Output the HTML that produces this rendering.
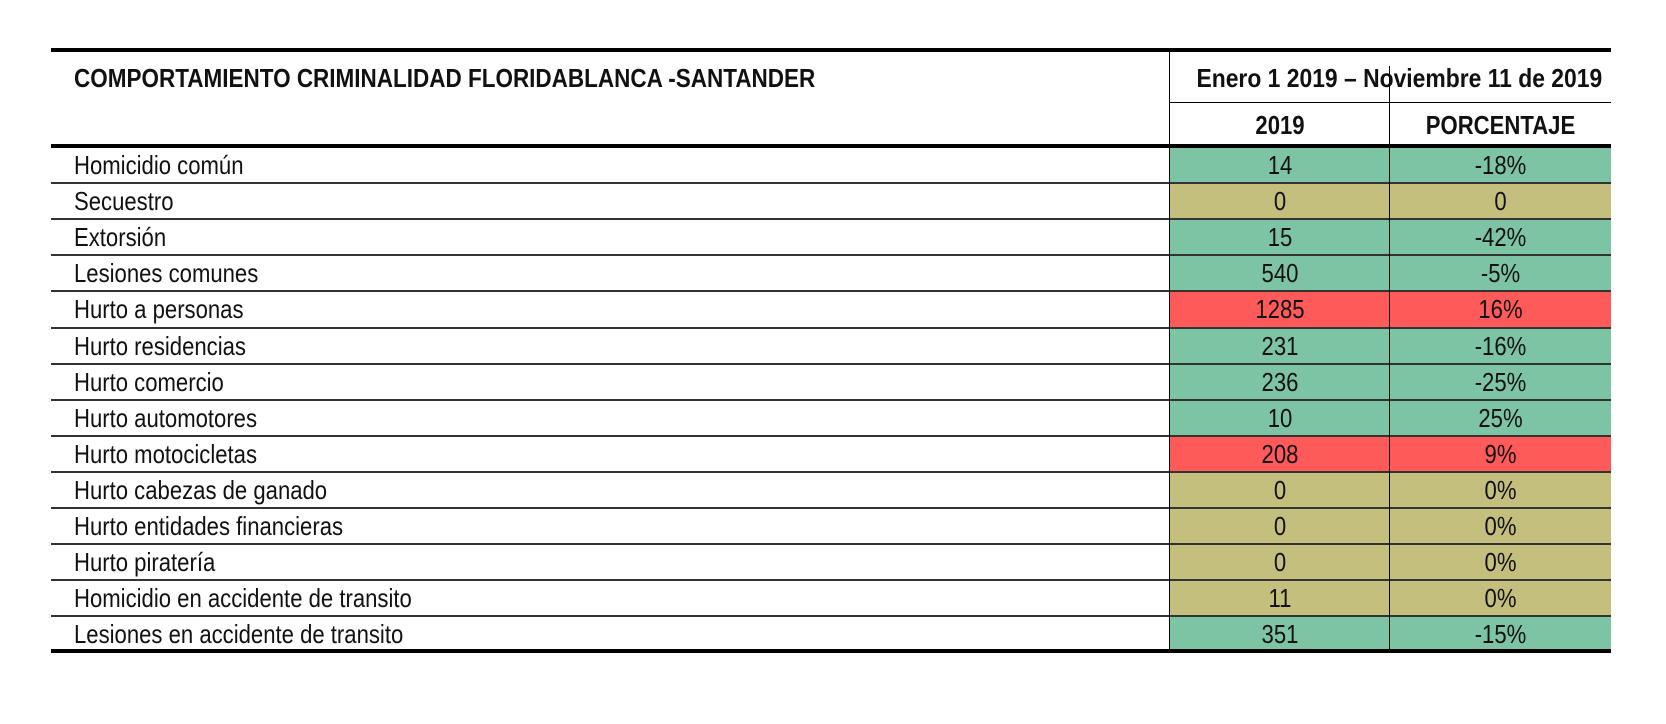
<!DOCTYPE html>
<html><head><meta charset="utf-8"><style>
body{margin:0;background:#fff;width:1666px;height:724px;position:relative;overflow:hidden;font-family:"Liberation Sans",sans-serif;color:#111}
.a{position:absolute}
.h{position:absolute;background:#000}
.t{position:absolute;font-size:26px;line-height:36px;white-space:nowrap}
.l{transform:scaleX(0.85);transform-origin:0 50%}
.c{text-align:center;transform:scaleX(0.85);transform-origin:50% 50%}
.b{font-weight:bold}
</style></head><body>
<div class="h" style="left:51px;top:48px;width:1560px;height:4px"></div>
<div class="t b l" style="left:74px;top:60px;font-size:26px;transform:scaleX(0.865)">COMPORTAMIENTO CRIMINALIDAD FLORIDABLANCA -SANTANDER</div>
<div class="t b c" style="left:1170px;top:60px;width:441px;font-size:26px;transform:scaleX(0.88)">Enero 1 2019 – Noviembre 11 de 2019</div>
<div class="h" style="left:1170px;top:102px;width:441px;height:1px"></div>
<div class="t b c" style="left:1170px;top:107px;width:220px">2019</div>
<div class="t b c" style="left:1390px;top:107px;width:221px">PORCENTAJE</div>
<div id="rows"></div>
<div class="h" style="left:51px;top:144px;width:1560px;height:4px"></div>
<div class="h" style="left:51px;top:649px;width:1560px;height:4px"></div>
<div class="h" style="left:1169px;top:50px;width:1px;height:601px"></div>
<div class="h" style="left:1389px;top:66px;width:1px;height:585px"></div>
<script>
var d=[["Homicidio común","14","-18%","g"],["Secuestro","0","0","k"],["Extorsión","15","-42%","g"],["Lesiones comunes","540","-5%","g"],["Hurto a personas","1285","16%","r"],["Hurto residencias","231","-16%","g"],["Hurto comercio","236","-25%","g"],["Hurto automotores","10","25%","g"],["Hurto motocicletas","208","9%","r"],["Hurto cabezas de ganado","0","0%","k"],["Hurto entidades financieras","0","0%","k"],["Hurto piratería","0","0%","k"],["Homicidio en accidente de transito","11","0%","k"],["Lesiones en accidente de transito","351","-15%","g"]];
var col={g:"#7cc4a4",k:"#c4bf7c",r:"#fe5a5a"};
var h="",y0=147,rh=36.1;
d.forEach(function(r,i){var y=y0+i*rh;
h+='<div class="a" style="left:1170px;top:'+y+'px;width:441px;height:'+rh+'px;background:'+col[r[3]]+'"></div>';
h+='<div class="t l" style="left:74px;top:'+y+'px">'+r[0]+'</div>';
h+='<div class="t c" style="left:1170px;top:'+y+'px;width:220px">'+r[1]+'</div>';
h+='<div class="t c" style="left:1390px;top:'+y+'px;width:221px">'+r[2]+'</div>';
if(i>0)h+='<div class="h" style="left:51px;top:'+(y-1)+'px;width:1560px;height:2px;background:#333"></div>';});
document.getElementById("rows").innerHTML=h;
</script>
</body></html>
